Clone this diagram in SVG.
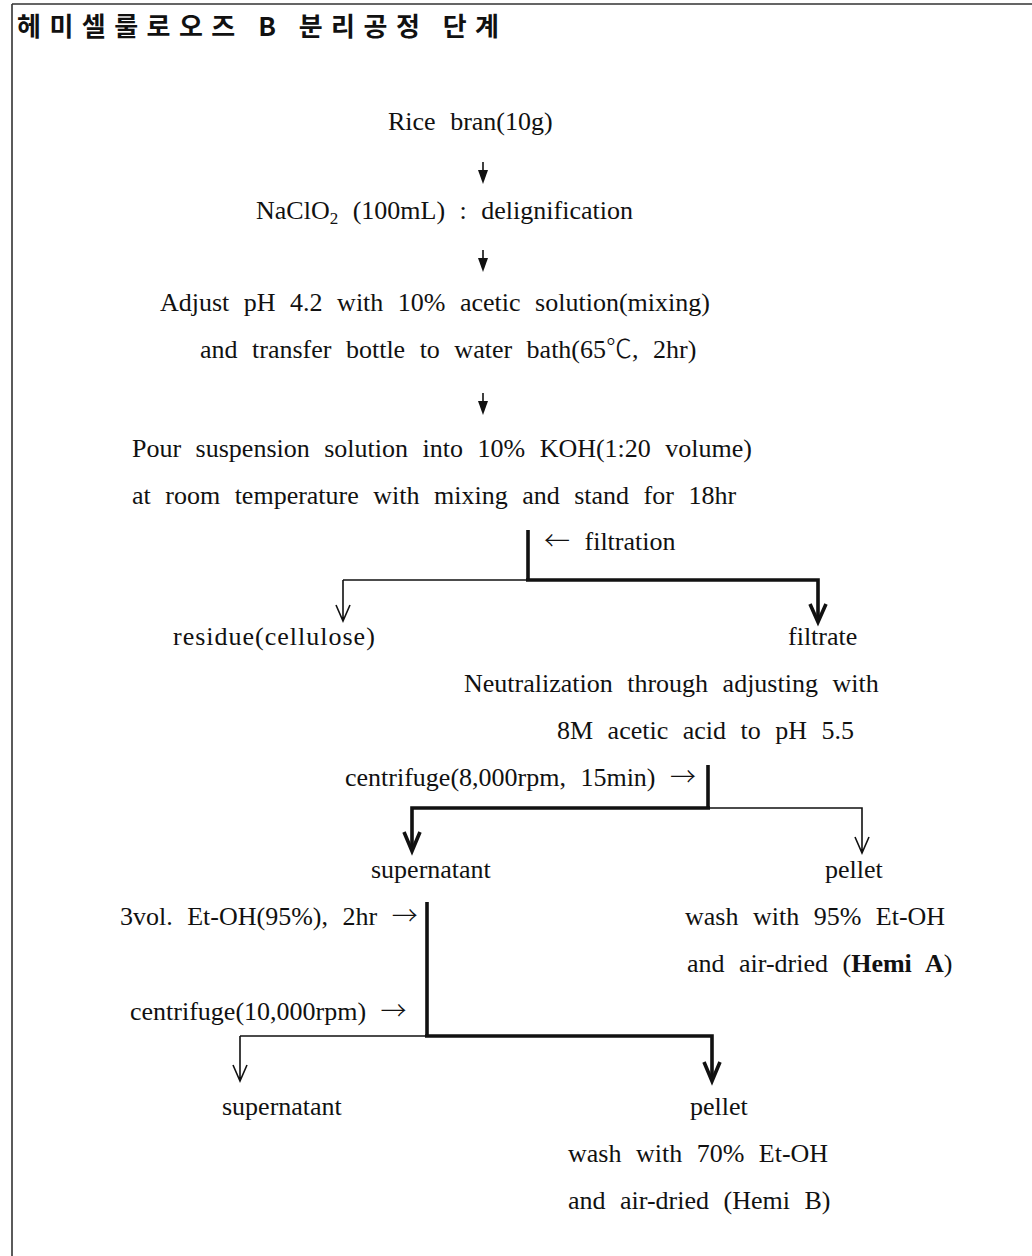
<svg xmlns="http://www.w3.org/2000/svg" width="1032" height="1256" viewBox="0 0 1032 1256">
<style>
.t{font-family:"Liberation Serif","Noto Sans CJK KR",serif;font-size:26px;fill:#111;word-spacing:8px}
.ar{font-family:"Noto Sans CJK KR",sans-serif;font-weight:300}
.title{font-family:"Noto Sans CJK KR",sans-serif;font-size:26px;font-weight:bold;fill:#111}
.thin{stroke:#111;stroke-width:1.6;fill:none}
.thick{stroke:#111;stroke-width:3.6;fill:none}
.b{font-weight:bold}
</style>
<rect width="1032" height="1256" fill="#fff"/>
<g id="frame">
<path d="M12 4 H1032 M12 4 V1256" stroke="#333" stroke-width="1.6" fill="none"/>
</g>
<g id="title"><text class="title" x="17" y="36" textLength="482" lengthAdjust="spacing">헤미셀룰로오즈 B 분리공정 단계</text></g>

<g id="connectors">
<path class="thin" d="M483 162 V181"/><path d="M478 170 L483 184 L488 170 Z" fill="#111"/>
<path class="thin" d="M483 250 V269"/><path d="M478 258 L483 272 L488 258 Z" fill="#111"/>
<path class="thin" d="M483 393 V412"/><path d="M478 401 L483 415 L488 401 Z" fill="#111"/>
<!-- branch 1 -->
<path class="thick" d="M528 530 V580"/>
<path class="thin" d="M343 580 H528"/>
<path class="thick" d="M526 580 H818 V620"/>
<path class="thin" d="M343 580 V620 M336 605 L343 621 L350 605"/>
<path class="thick" d="M810 604 L818 622 L826 604"/>
<!-- branch 2 -->
<path class="thick" d="M708 765 V808"/>
<path class="thick" d="M710 808 H412 V850"/>
<path class="thick" d="M404 832 L412 851 L420 832"/>
<path class="thin" d="M708 808 H862 V852 M855 837 L862 853 L869 837"/>
<!-- branch 3 -->
<path class="thick" d="M427 902 V1036"/>
<path class="thin" d="M240 1036 H427 M240 1036 V1080 M233 1065 L240 1081 L247 1065"/>
<path class="thick" d="M425 1036 H712 V1080"/>
<path class="thick" d="M704 1062 L712 1081 L720 1062"/>
</g>

<g id="n1"><text class="t" x="388" y="130">Rice bran(10g)</text></g>
<g id="n2"><text class="t" x="256" y="219">NaClO<tspan font-size="17" dy="5">2</tspan><tspan dy="-5"> (100mL) : delignification</tspan></text></g>
<g id="n3">
<text class="t" x="160" y="311">Adjust pH 4.2 with 10% acetic solution(mixing)</text>
<text class="t" x="200" y="358">and transfer bottle to water bath(65<tspan class="ar">℃</tspan>, 2hr)</text>
</g>
<g id="n4">
<text class="t" x="132" y="457">Pour suspension solution into 10% KOH(1:20 volume)</text>
<text class="t" x="132" y="504">at room temperature with mixing and stand for 18hr</text>
</g>
<g id="l-filtration"><text class="t" x="544" y="550"><tspan class="ar">←</tspan> filtration</text></g>
<g id="n5"><text class="t" x="173" y="645" letter-spacing="1">residue(cellulose)</text></g>
<g id="n6">
<text class="t" x="788" y="645">filtrate</text>
<text class="t" x="464" y="692">Neutralization through adjusting with</text>
<text class="t" x="557" y="739" word-spacing="10">8M acetic acid to pH 5.5</text>
</g>
<g id="l-centrifuge1"><text class="t" x="345" y="786">centrifuge(8,000rpm, 15min) <tspan class="ar">→</tspan></text></g>
<g id="n7"><text class="t" x="371" y="878">supernatant</text></g>
<g id="n8">
<text class="t" x="825" y="878">pellet</text>
<text class="t" x="685" y="925">wash with 95% Et-OH</text>
<text class="t" x="687" y="972">and air-dried (<tspan class="b">Hemi A</tspan>)</text>
</g>
<g id="l-etoh"><text class="t" x="120" y="925">3vol. Et-OH(95%), 2hr <tspan class="ar">→</tspan></text></g>
<g id="l-centrifuge2"><text class="t" x="130" y="1020">centrifuge(10,000rpm) <tspan class="ar">→</tspan></text></g>
<g id="n9"><text class="t" x="222" y="1115">supernatant</text></g>
<g id="n10">
<text class="t" x="690" y="1115">pellet</text>
<text class="t" x="568" y="1162">wash with 70% Et-OH</text>
<text class="t" x="568" y="1209">and air-dried (Hemi B)</text>
</g>
</svg>
